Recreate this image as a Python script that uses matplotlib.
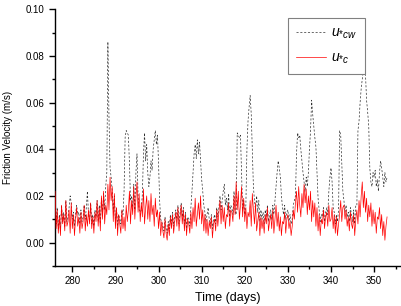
"""Friction velocity time series, u*cw (dotted) vs u*c (red)."""
import matplotlib
matplotlib.use("Agg")
import matplotlib.pyplot as plt
import numpy as np

plt.rcParams["font.family"] = ["Liberation Sans", "DejaVu Sans"]
plt.rcParams["mathtext.fontset"] = "custom"
plt.rcParams["mathtext.it"] = "Liberation Sans:italic"
plt.rcParams["mathtext.rm"] = "Liberation Sans"

# samples every 6 h starting at day 276, values in mm/s
T0 = 276.0
DT = 0.25

u_c = [
    22, 6, 14, 4,   11, 3, 16, 8,   12, 5, 18, 7,   9, 14, 4, 17,      # 276-279
    6, 12, 3, 10,   15, 7, 11, 4,   13, 6, 9, 16,   5, 12, 7, 14,      # 280-283
    8, 17, 6, 11,   4, 13, 9, 18,   7, 15, 5, 20,   10, 22, 8, 16,     # 284-287
    12, 25, 14, 28, 18, 24, 9, 21,  6, 15, 3, 12,   8, 4, 14, 6,       # 288-291
    11, 5, 16, 9,   14, 22, 8, 18,  12, 24, 10, 19, 26, 13, 21, 9,     # 292-295
    17, 11, 23, 8,  15, 20, 10, 18, 9, 21, 12, 16,  7, 19, 11, 14,     # 296-299
    6, 13, 3, 9,    5, 2, 10, 4,    1, 8, 3, 11,    6, 12, 4, 9,       # 300-303
    13, 7, 15, 5,   11, 16, 8, 14,  5, 12, 3, 10,   8, 4, 13, 6,       # 304-307
    15, 9, 19, 7,   12, 17, 10, 20, 8, 14, 5, 12,   4, 10, 3, 9,       # 308-311
    6, 11, 2, 8,    10, 5, 14, 7,   13, 18, 8, 16,  9, 15, 6, 12,      # 312-315
    11, 17, 7, 14,  13, 9, 20, 12,  26, 14, 22, 10, 16, 24, 11, 19,    # 316-319
    9, 15, 6, 13,   11, 18, 7, 21,  14, 8, 17, 5,   9, 13, 3, 11,      # 320-323
    6, 10, 4, 12,   8, 15, 5, 9,    12, 6, 14, 4,   10, 16, 7, 13,     # 324-327
    5, 11, 3, 9,    8, 13, 4, 10,   12, 6, 9, 3,    7, 14, 10, 17,     # 328-331
    22, 13, 24, 16, 11, 21, 15, 25, 17, 23, 12, 20, 14, 22, 9, 18,     # 332-335
    11, 17, 7, 15,  5, 12, 3, 10,   8, 14, 6, 11,   13, 7, 16, 9,      # 336-339
    10, 15, 6, 12,  4, 11, 3, 8,    12, 18, 9, 15,  16, 10, 14, 7,     # 340-343
    11, 5, 13, 8,   6, 12, 3, 10,   14, 8, 18, 11,  20, 26, 15, 22,    # 344-347
    13, 19, 9, 16,  11, 17, 7, 14,  8, 13, 4, 11,   10, 15, 6, 12,     # 348-351
    3, 9, 1, 7,     11,                                               # 352-353
]

u_cw = [
    20, 8, 15, 6,   12, 5, 16, 9,   13, 7, 18, 9,   11, 15, 20, 17,    # 276-279
    10, 13, 7, 12,  16, 12, 13, 8,  14, 9, 11, 16,  10, 15, 22, 12,    # 280-283
    9, 17, 8, 12,   7, 14, 11, 18,  9, 16, 8, 19,   12, 21, 14, 24,    # 284-287
    30, 86, 54, 32, 28, 22, 14, 20, 9, 15, 7, 12,   10, 8, 14, 12,     # 288-291
    22, 45, 48, 47, 46, 34, 18, 20, 15, 25, 14, 30, 38, 20, 14, 13,    # 292-295
    14, 21, 38, 47, 35, 42, 30, 24, 28, 35, 31, 40, 44, 48, 42, 46,    # 296-299
    34, 18, 10, 9,  7, 5, 11, 6,    4, 9, 6, 12,    8, 13, 7, 11,      # 300-303
    14, 10, 16, 8,  13, 17, 11, 15, 8, 13, 6, 11,   10, 7, 15, 22,     # 304-307
    30, 38, 42, 36, 44, 38, 43, 35, 27, 22, 16, 13, 9, 12, 15, 10,     # 308-311
    8, 12, 6, 10,   12, 8, 15, 11,  15, 20, 14, 18, 22, 25, 16, 19,    # 312-315
    14, 21, 11, 16, 15, 12, 22, 14, 12, 47, 46, 45, 46, 30, 14, 18,    # 316-319
    12, 16, 40, 52, 58, 63, 55, 40, 24, 18, 14, 20, 13, 18, 9, 14,     # 320-323
    10, 13, 8, 14,  11, 16, 9, 12,  14, 10, 16, 12, 18, 24, 30, 35,    # 324-327
    32, 28, 20, 15, 12, 16, 10, 13, 14, 9, 12, 8,   10, 16, 18, 20,    # 328-331
    38, 47, 45, 46, 40, 35, 30, 26, 22, 28, 24, 30, 40, 48, 61, 55,    # 332-335
    50, 45, 41, 30, 19, 14, 9, 12,  11, 15, 9, 13,  15, 12, 22, 28,    # 336-339
    32, 26, 15, 13, 8, 12, 9, 14,   48, 46, 34, 22, 18, 13, 16, 11,    # 340-343
    13, 9, 15, 12,  9, 14, 8, 16,   16, 48, 52, 60, 66, 70, 74, 76,    # 344-347
    72, 61, 56, 50, 32, 26, 24, 30, 28, 31, 24, 27, 22, 30, 35, 32,    # 348-351
    28, 24, 30, 26, 28,                                               # 352-353
]

t_c = T0 + DT * np.arange(len(u_c))
t_cw = T0 + DT * np.arange(len(u_cw))

fig = plt.figure(figsize=(4.02, 3.06), dpi=100)
ax = fig.add_axes([0.137, 0.131, 0.858, 0.839])

ax.plot(t_cw, np.array(u_cw) / 1000, color="#303030", lw=0.5,
        ls=(0, (3, 2.5)), label=r"$u_{*cw}$", zorder=2)
ax.plot(t_c, np.array(u_c) / 1000, color="#ff0000", lw=0.5,
        label=r"$u_{*c}$", zorder=3)

ax.set_xlim(276, 356)
ax.set_ylim(-0.01, 0.10)
ax.set_xticks(np.arange(280, 351, 10))
ax.set_xticks(np.arange(285, 356, 10), minor=True)
ax.set_yticks(np.arange(0, 0.101, 0.02))
ax.set_yticks(np.arange(-0.01, 0.10, 0.02), minor=True)
ax.yaxis.set_major_formatter(matplotlib.ticker.FormatStrFormatter("%.2f"))

for s in ("top", "right"):
    ax.spines[s].set_visible(False)
for s in ("left", "bottom"):
    ax.spines[s].set_linewidth(1.0)
ax.tick_params(which="major", direction="out", length=4, width=1, labelsize=7)
ax.tick_params(which="minor", direction="out", length=2.5, width=1)

ax.set_xlabel("Time (days)", fontsize=9, labelpad=4)
ax.set_ylabel("Friction Velocity (m/s)", fontsize=7, labelpad=9)

leg = ax.legend(loc="upper left", bbox_to_anchor=(0.675, 0.966), fontsize=10,
                fancybox=False, framealpha=1, edgecolor="#808080",
                handlelength=2.2, handletextpad=0.35, borderpad=0.55,
                labelspacing=0.7, borderaxespad=0)
leg.get_frame().set_linewidth(0.8)

fig.savefig("out.png", dpi=100)
